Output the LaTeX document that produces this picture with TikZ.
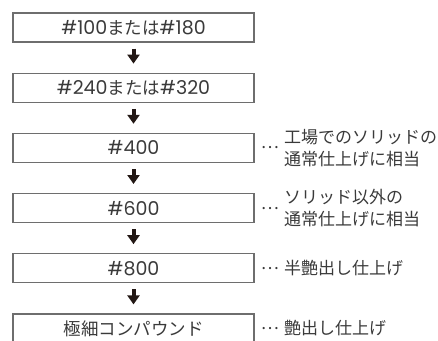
\documentclass[tikz,border=0pt]{standalone}
\usepackage{fontspec}
\setmainfont{Noto Sans CJK JP}
\newfontfamily\gritfont{Poppins}
\usepackage{tikz}
\usetikzlibrary{arrows.meta,positioning}
\definecolor{boxgray}{HTML}{6E6E6E}
\definecolor{inkgray}{HTML}{3A3A3A}
\definecolor{arrowink}{HTML}{231815}
\tikzset{>=latex}
\newcommand{\grit}[1]{{\gritfont\fontsize{19}{22}\selectfont\##1}}

\begin{document}
\begin{tikzpicture}[x=1pt, y=1pt]
                        % G1..G6 = polishing steps, D = dots, N = notes
                        \clip (0,0) rectangle (438,-340);
                        \tikzstyle{every node}=[text=inkgray, font=\fontsize{17}{22}\selectfont, node distance=60.2pt]
                        \tikzstyle{stepbox}=[draw=boxgray, line width=1.2pt, minimum width=241pt, minimum height=29pt, inner sep=0pt, font=\fontsize{17.5}{22}\selectfont]
                        \tikzstyle{stepto}=[draw=arrowink, line width=4pt, -{Triangle[width=12pt, length=9pt]}, shorten <=6pt, shorten >=9pt]
                        \tikzstyle{dots}=[inner sep=0pt, right=6pt of #1]
                        \tikzstyle{note}=[inner sep=0pt, align=left, anchor=west]
                        \node[stepbox] (G1) at (133.5, -27.5) {\grit{100}または\grit{180}};
                        \node[stepbox] (G2) [below of = G1] {\grit{240}または\grit{320}};
                        \draw[stepto] (G1) -- (G2);
                        \node[stepbox] (G3) [below of = G2] {\grit{400}};
                        \draw[stepto] (G2) -- (G3);
                        \node[stepbox] (G4) [below of = G3] {\grit{600}};
                        \draw[stepto] (G3) -- (G4);
                        \node[stepbox] (G5) [below of = G4] {\grit{800}};
                        \draw[stepto] (G4) -- (G5);
                        \node[stepbox] (G6) [below of = G5] {極細コンパウンド};
                        \draw[stepto] (G5) -- (G6);

                        \node[dots=G3] (D3) {…};
                        \node[note] (N3) at ([xshift=5pt]D3.east) {工場でのソリッドの\\通常仕上げに相当};

                        \node[dots=G4] (D4) {…};
                        \node[note] (N4) at ([xshift=5pt]D4.east) {ソリッド以外の\\通常仕上げに相当};

                        \node[dots=G5] (D5) {…};
                        \node[note] (N5) at ([xshift=5pt]D5.east) {半艶出し仕上げ};

                        \node[dots=G6] (D6) {…};
                        \node[note] (N6) at ([xshift=5pt]D6.east) {艶出し仕上げ};
                \end{tikzpicture}
\end{document}
